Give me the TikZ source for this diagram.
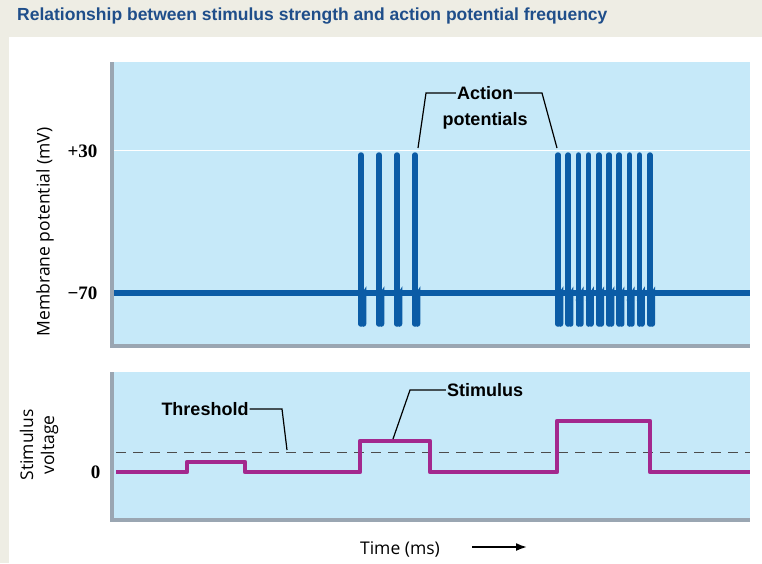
\documentclass[tikz,border=0pt]{standalone}
\usepackage{fontspec}
\usetikzlibrary{arrows.meta}
\setmainfont{Liberation Sans}
\newfontfamily\serifb{Liberation Serif}
\newfontfamily\opens{Open Sans}
\begin{document}
\begin{tikzpicture}[x=1pt,y=-1pt,
  panel/.style={fill=panelblue,draw=none},
  frame/.style={draw=framegrey,line width=3.5pt},
  spike/.style={draw=spikeblue,line width=5.5pt},
  stim/.style={draw=stimmag,line width=4.5pt,line join=round},
  lead/.style={draw=black,line width=1.2pt},
  lbl/.style={font=\bfseries\fontsize{18}{20}\selectfont,inner sep=1pt},
  tick/.style={font=\serifb\bfseries\fontsize{19}{21}\selectfont,anchor=east},
  axl/.style={font=\opens\fontsize{17.5}{21}\selectfont,rotate=90,align=center}]
\definecolor{panelblue}{HTML}{C6E9F9}
\definecolor{framegrey}{HTML}{9AA6B2}
\definecolor{spikeblue}{HTML}{0B5CA6}
\definecolor{stimmag}{HTML}{A3288E}
\definecolor{titleblue}{HTML}{1F4E8A}
\definecolor{beige}{HTML}{EEEDE4}
\useasboundingbox (0,0) rectangle (762,563);
\fill[beige] (0,0) rectangle (762,563);
\fill[white] (9,37) rectangle (762,563);
\begin{scope}
\clip (0,0) rectangle (762,563);
\node[anchor=west,text=titleblue,font=\bfseries\fontsize{17.5}{20}\selectfont,inner sep=0] (title) at (17,16) {Relationship between stimulus strength and action potential frequency};
\end{scope}
% top panel
\fill[panel] (112,62) rectangle (750,346);
\draw[frame] (112,62) -- (112,346) -- (750,346);
\draw[white,line width=1pt] (114,150) -- (750,150);
\draw[spike] (114,293) -- (750,293);
\foreach \x in {361,379,397,415,558,568.2,578.4,588.6,598.8,609,619.2,629.4,639.6,649.8}{
  \draw[spike,line cap=round] (\x,155) -- (\x,324);
  \draw[spike,line cap=round] (\x,300) -- (\x+2.5,296) -- (\x+2.5,324);
}
\node[tick] (p30) at (101,151) {+30};
\node[tick] (m70) at (101,293) {\char"2212 70};
\node[axl] (ylab) at (45,232) {Membrane potential (mV)};
\node[lbl] (ap1) at (485,93) {Action};
\node[lbl] (ap2) at (485,121) {potentials};
\draw[lead] (ap1.west) -- (426,93) -- (418,148);
\draw[lead] (ap1.east) -- (542,93) -- (557,148);
% bottom panel
\fill[panel] (112,372) rectangle (750,520);
\draw[frame] (112,372) -- (112,520) -- (750,520);
\draw[black!70,dash pattern=on 10pt off 7pt,line width=1pt] (116,452) -- (750,452);
\draw[stim] (116,472) -- (187,472) -- (187,462) -- (245,462) -- (245,472) -- (360,472) -- (360,441) -- (430,441) -- (430,472) -- (557,472) -- (557,421) -- (650,421) -- (650,472) -- (750,472);
\node[tick] (zero) at (104,472) {0};
\node[lbl] (thr) at (205,409) {Threshold};
\draw[lead] (thr.east) -- (282,409) -- (287,450);
\node[lbl] (sti) at (485,390) {Stimulus};
\draw[lead] (sti.west) -- (410,390) -- (393,439);
\node[axl] (ylab2) at (39,445) {Stimulus\\voltage};
\node[font=\opens\fontsize{17.5}{20}\selectfont] (time) at (400,549) {Time (ms)};
\coordinate (a1) at (472,547);
\coordinate (a2) at (527,547);
\draw[-{Latex[length=11pt,width=8pt]},line width=1.8pt] (a1) -- (a2);
\end{tikzpicture}
\end{document}
